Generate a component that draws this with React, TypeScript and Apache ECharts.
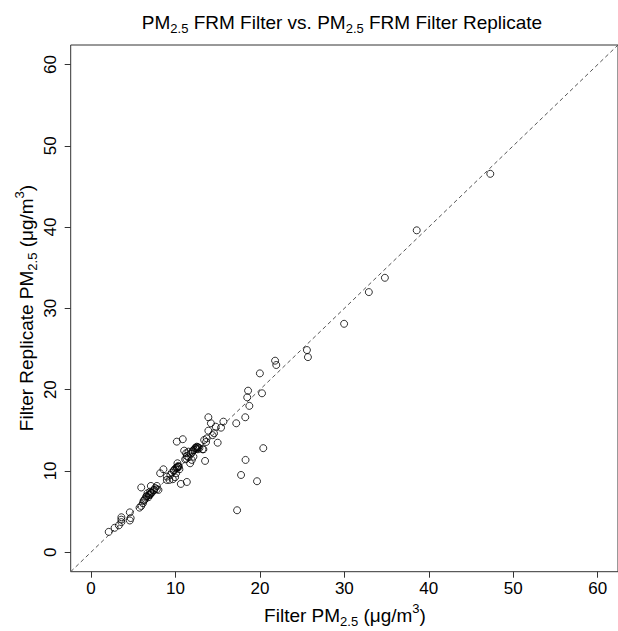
import React, { useEffect, useRef } from "react";
import * as echarts from "echarts";

const tickValues = [0, 10, 20, 30, 40, 50, 60];
const axisMin = -2.4;
const axisMax = 62.4;

// Filter PM2.5 (x) vs Filter Replicate PM2.5 (y), µg/m3
const filterX = [
  2.1, 2.8, 3.3, 3.6, 3.6, 3.6, 4.6, 4.7, 4.6,
  5.95, 7.09, 7.8, 7.99, 7.48, 7.0, 6.69, 6.93, 6.54, 6.8, 6.42, 6.22, 6.15, 5.95, 5.75, 7.2, 7.8, 6.85, 7.05,
  6.3, 6.6, 7.1, 7.4, 7.6,
  8.19, 8.58, 8.98, 9.29, 9.69, 9.96, 9.57, 9.85, 10.16, 10.35, 10.47, 10.08, 8.98, 10.24, 10.64, 11.35, 10.16, 10.87, 10.2, 10.4,
  10.0, 10.3, 9.4, 9.8,
  11.03, 11.26, 11.35, 11.15, 11.54, 11.74, 11.94, 12.13, 11.82, 12.06, 12.33, 12.53, 12.65, 11.54, 13.31, 13.51, 12.84, 12.4, 12.6,
  12.2, 12.5, 12.7, 11.3, 12.0,
  13.9, 14.2, 15.68, 15.4, 14.77, 13.9, 14.57, 13.7, 13.63, 13.4, 13.2, 15.0, 14.4,
  17.2, 18.27, 18.75, 18.5, 18.6, 20.25, 20.0, 21.8, 21.94, 20.4, 18.3, 17.77, 19.66, 17.3,
  25.57, 25.69, 29.97, 32.9, 34.8, 38.57, 47.28,
];
const replicateY = [
  2.5, 3.0, 3.3, 3.7, 4.0, 4.3, 3.9, 4.2, 4.9,
  7.96, 8.15, 8.15, 7.66, 7.66, 7.45, 7.25, 7.05, 6.84, 6.76, 6.55, 6.3, 6.02, 5.69, 5.48, 7.33, 7.75, 7.0, 7.15,
  6.4, 6.9, 7.3, 7.6, 7.9,
  9.71, 10.2, 9.3, 8.89, 8.98, 9.22, 9.79, 10.12, 10.45, 10.61, 10.2, 9.71, 8.89, 10.94, 8.4, 8.64, 13.6, 13.9, 10.35, 10.5,
  10.3, 10.5, 9.5, 10.0,
  12.49, 12.17, 11.84, 11.43, 11.68, 10.94, 11.35, 11.75, 12.09, 12.49, 12.79, 12.98, 12.66, 12.37, 12.66, 11.23, 12.79, 12.85, 12.9,
  12.6, 12.7, 12.9, 11.5, 12.3,
  16.6, 15.86, 16.06, 15.32, 15.44, 14.95, 14.63, 14.0, 13.56, 13.8, 12.66, 13.47, 14.4,
  15.86, 16.6, 18.0, 19.05, 19.87, 19.55, 22.0, 23.56, 23.03, 12.8, 11.35, 9.5, 8.73, 5.16,
  24.87, 24.0, 28.1, 32.0, 33.76, 39.6, 46.55,
];

const FONT = "Liberation Sans, Arial, Helvetica, sans-serif";

const rich = {
  n: { fontSize: 19, fontFamily: FONT, color: "#000", lineHeight: 26, verticalAlign: "middle" },
  s: { fontSize: 13, fontFamily: FONT, color: "#000", lineHeight: 26, verticalAlign: "bottom" },
  p: { fontSize: 13, fontFamily: FONT, color: "#000", lineHeight: 26, verticalAlign: "top" },
};

export default function App() {
  const ref = useRef<HTMLDivElement>(null);
  useEffect(() => {
    if (!ref.current) return;
    const chart = echarts.init(ref.current, undefined, { renderer: "svg" });
    const points = filterX.map((x, i) => [x, replicateY[i]]);
    const axisCommon = {
      type: "value" as const,
      min: axisMin,
      max: axisMax,
      splitLine: { show: false },
      axisLine: { show: false, onZero: false },
      axisTick: {
        show: true,
        inside: false,
        length: 6,
        customValues: tickValues,
        lineStyle: { color: "#333", width: 1 },
      },
    };
    chart.setOption({
      animation: false,
      grid: {
        left: 70.7,
        top: 45,
        width: 547.9,
        height: 526.7,
        show: true,
        borderColor: "#333",
        borderWidth: 1,
        backgroundColor: "transparent",
      },
      xAxis: {
        ...axisCommon,
        position: "bottom",
        axisLabel: {
          customValues: tickValues,
          margin: 8,
          fontSize: 17,
          fontFamily: FONT,
          color: "#000",
        },
      },
      yAxis: {
        ...axisCommon,
        position: "left",
        axisLabel: {
          customValues: tickValues,
          margin: 12,
          rotate: 90,
          fontSize: 17,
          fontFamily: FONT,
          color: "#000",
        },
      },
      graphic: [
        {
          type: "text",
          x: 342,
          y: 22,
          style: {
            text: "{n|PM}{s|2.5}{n| FRM Filter vs. PM}{s|2.5}{n| FRM Filter Replicate}",
            rich,
            align: "center",
            verticalAlign: "middle",
          },
        },
        {
          type: "text",
          x: 345,
          y: 615,
          style: {
            text: "{n|Filter PM}{s|2.5}{n| (μg/m}{p|3}{n|)}",
            rich,
            align: "center",
            verticalAlign: "middle",
          },
        },
        {
          type: "text",
          x: 26,
          y: 308,
          rotation: Math.PI / 2,
          style: {
            text: "{n|Filter Replicate PM}{s|2.5}{n| (μg/m}{p|3}{n|)}",
            rich,
            align: "center",
            verticalAlign: "middle",
          },
        },
      ],
      series: [
        {
          type: "line",
          data: [
            [axisMin, axisMin],
            [axisMax, axisMax],
          ],
          showSymbol: false,
          symbol: "none",
          silent: true,
          lineStyle: { color: "#555", width: 1, type: [4, 3] },
          z: 1,
        },
        {
          type: "scatter",
          data: points,
          symbol: "circle",
          symbolSize: 7,
          itemStyle: { color: "rgba(0,0,0,0)", borderColor: "#000", borderWidth: 1 },
          z: 2,
        },
      ],
    });
    return () => chart.dispose();
  }, []);
  return (
    <div
      ref={ref}
      style={{ position: "fixed", left: 0, top: 0, width: 618, height: 631, background: "#fff" }}
    />
  );
}
